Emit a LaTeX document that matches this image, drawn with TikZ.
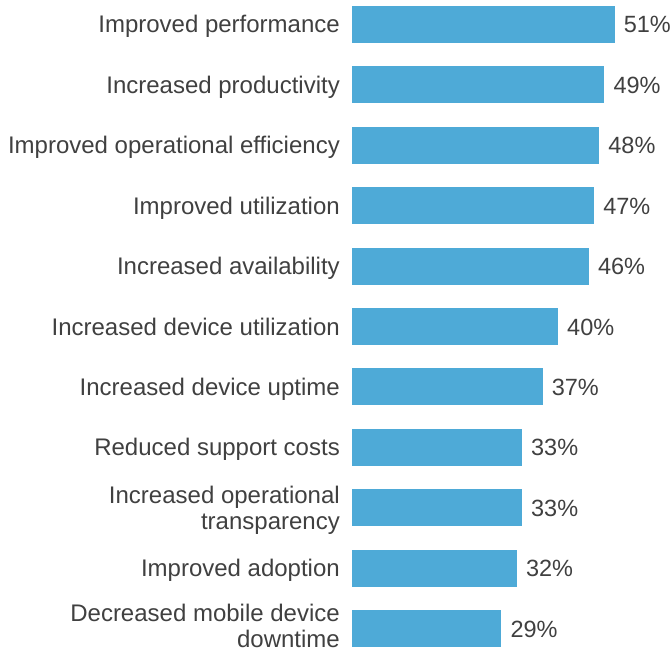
\documentclass[tikz,border=0pt]{standalone}
\usepackage{fontspec}
\setmainfont{Liberation Sans}
\definecolor{barblue}{HTML}{4EAAD7}
\definecolor{txtgray}{HTML}{404040}
\begin{document}
\begin{tikzpicture}[x=1pt, y=-1pt,
    lab/.style={text=txtgray, font=\fontsize{24}{26}\selectfont, align=right, inner sep=0pt, text depth=0pt},
    pct/.style={text=txtgray, font=\fontsize{23.5}{26}\selectfont, inner sep=0pt}]
\useasboundingbox (0,0) rectangle (670,650);

% label / value / shift of the last line
\foreach \t/\v/\d [count=\i from 0] in {Improved performance/51/0, Increased productivity/49/0,
    Improved operational efficiency/48/0, Improved utilization/47/0, Increased availability/46/0,
    Increased device utilization/40/0, Increased device uptime/37/0, Reduced support costs/33/0,
    {Increased operational\\transparency}/33/13, Improved adoption/32/0,
    {Decreased mobile device\\downtime}/29/10}
{
    \fill[barblue] (352,6+60.4*\i) rectangle ++(5.15*\v,37);
    \node[lab, anchor=base east] (l\i) at (340,33+\d+60.4*\i) {\t};
    \node[pct, anchor=base west] (p\i) at (361+5.15*\v,33+60.4*\i) {\v\%};
}
\end{tikzpicture}
\end{document}
